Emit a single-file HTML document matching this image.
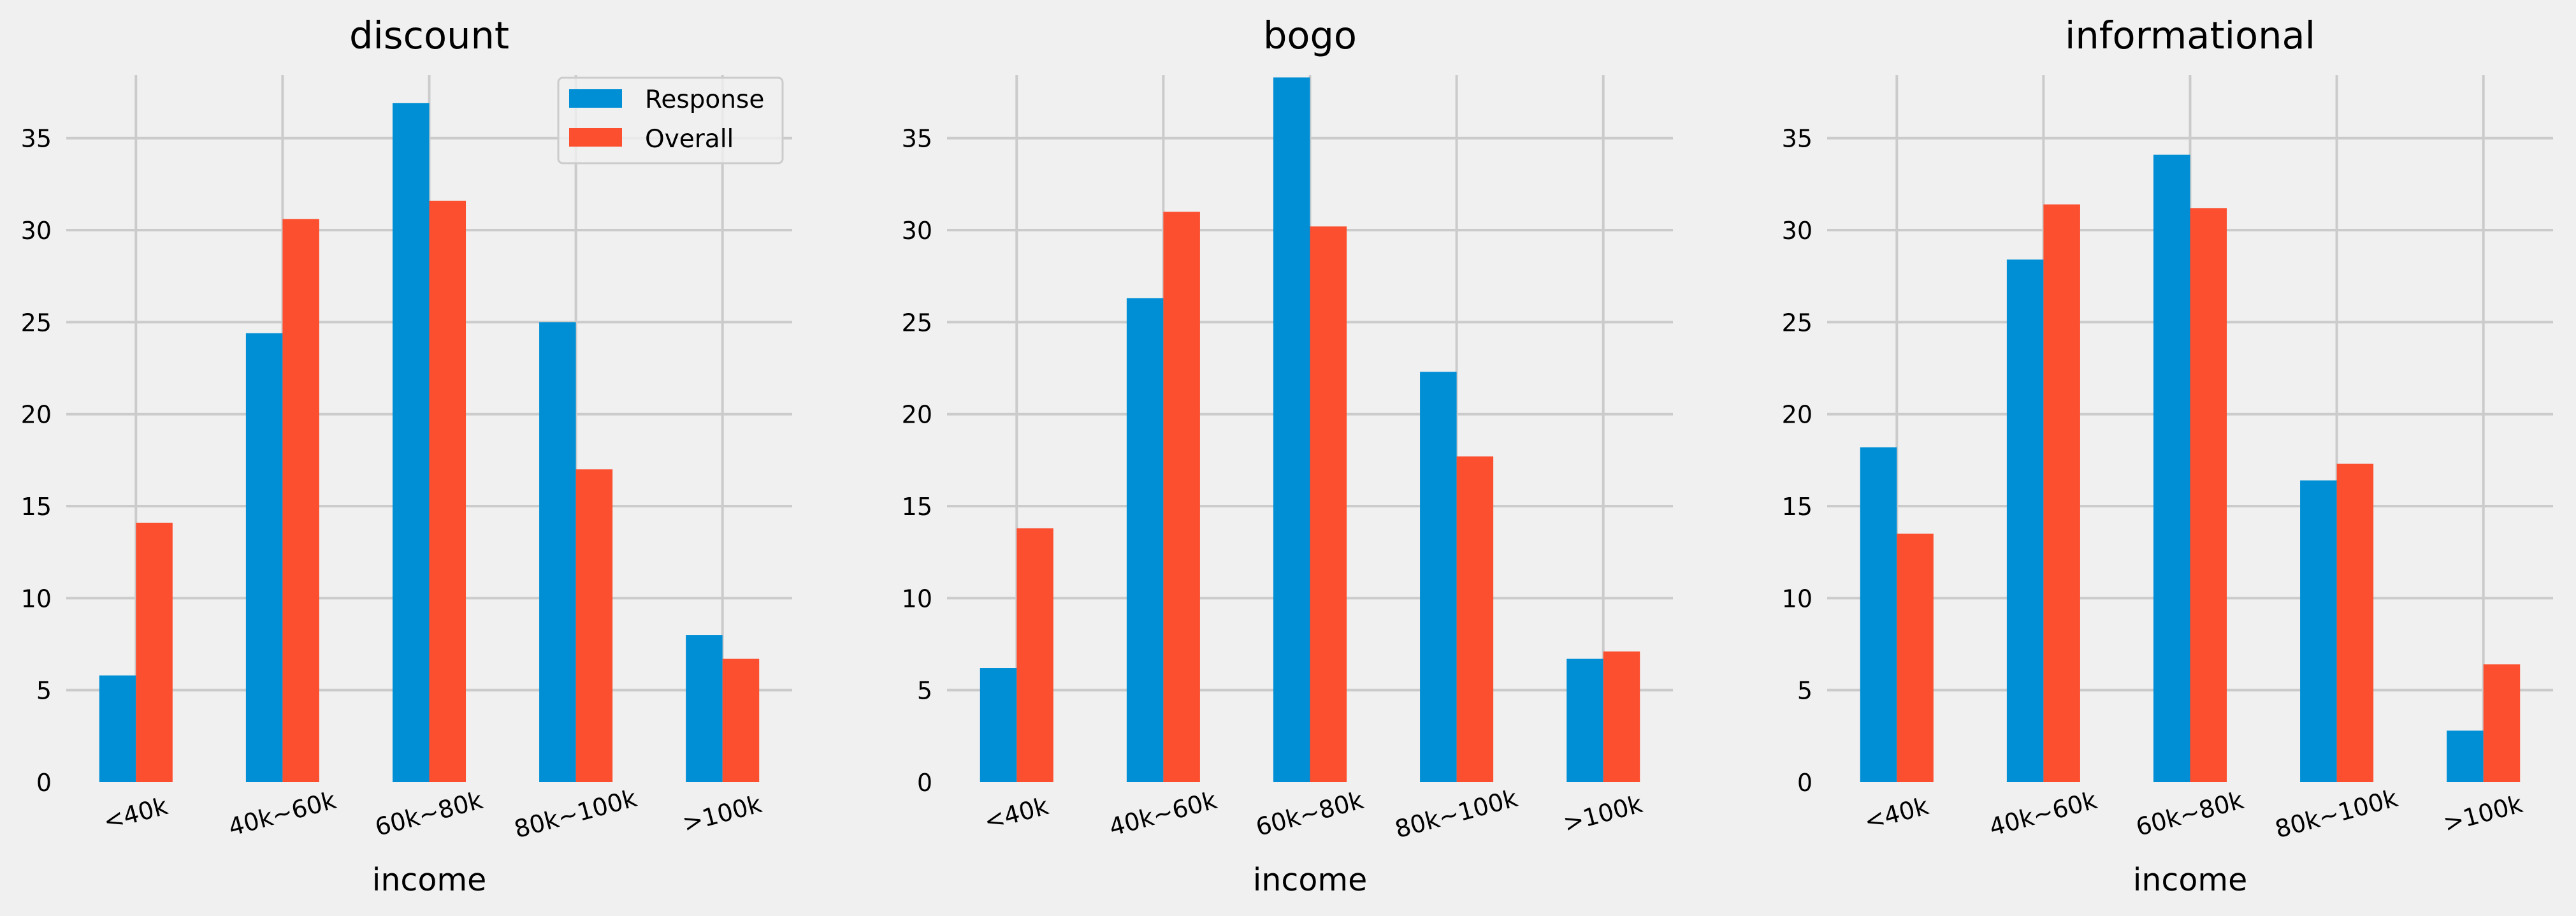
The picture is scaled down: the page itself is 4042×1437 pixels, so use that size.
<!DOCTYPE html>
<html><head><meta charset="utf-8">
<style>
html,body{margin:0;padding:0;background:#f0f0f0;}
svg{display:block;font-family:"DejaVu Sans","Liberation Sans",sans-serif;}
</style></head>
<body>
<svg id="chart" width="4042" height="1437" viewBox="0 0 4042 1437" xmlns="http://www.w3.org/2000/svg">
<rect x="0" y="0" width="4042" height="1437" fill="#f0f0f0"/>
</svg>
<script>
const categories = ["<40k", "40k~60k", "60k~80k", "80k~100k", ">100k"];
const panelTitles = ["discount", "bogo", "informational"];
const discountResponse = [5.8, 24.4, 36.9, 25.0, 8.0];
const discountOverall = [14.1, 30.6, 31.6, 17.0, 6.7];
const bogoResponse = [6.2, 26.3, 38.3, 22.3, 6.7];
const bogoOverall = [13.8, 31.0, 30.2, 17.7, 7.1];
const informationalResponse = [18.2, 28.4, 34.1, 16.4, 2.8];
const informationalOverall = [13.5, 31.4, 31.2, 17.3, 6.4];
const yTicks = [0, 5, 10, 15, 20, 25, 30, 35];
const seriesNames = ["Response", "Overall"];

const responseSeries = [discountResponse, bogoResponse, informationalResponse];
const overallSeries = [discountOverall, bogoOverall, informationalOverall];

const NS = "http://www.w3.org/2000/svg";
const svg = document.getElementById("chart");
const panelLeft = [104, 1486, 2867];
const panelW = 1139;
const plotTop = 118, y0 = 1227;
const yMax = 38.42;
const xMin = -0.475, xMax = 4.475;
const BLUE = "#008fd5", RED = "#fc4f30", GRID = "#cbcbcb";

function mk(tag, attrs, parent) {
  const e = document.createElementNS(NS, tag);
  for (const k in attrs) e.setAttribute(k, attrs[k]);
  (parent || svg).appendChild(e);
  return e;
}

for (let p = 0; p < 3; p++) {
  const L = panelLeft[p];
  const xs = v => L + (v - xMin) / (xMax - xMin) * panelW;
  const ys = v => y0 - v / yMax * (y0 - plotTop);
  const g = mk("g", {});
  
  

  yTicks.forEach(t => {
    const y = ys(t);
    if (t > 0) {
      const ln = mk("line", {x1: L, x2: L + panelW, y1: y, y2: y, stroke: GRID, "stroke-width": 4}, g);
      
      
    }
    const tx = mk("text", {x: L - 23, y: y + 14, "text-anchor": "end", "font-size": 38, fill: "#000"}, g);
    tx.textContent = String(t);
    
    
  });
  categories.forEach((c, i) => {
    const x = xs(i);
    const ln = mk("line", {x1: x, x2: x, y1: plotTop, y2: y0, stroke: GRID, "stroke-width": 4}, g);
    
    
  });
  categories.forEach((c, i) => {
    const r = responseSeries[p][i], o = overallSeries[p][i];
    const b1 = mk("rect", {x: xs(i - 0.25), y: ys(r), width: xs(i) - xs(i - 0.25), height: y0 - ys(r), fill: BLUE}, g);
    
    
    const b2 = mk("rect", {x: xs(i), y: ys(o), width: xs(i + 0.25) - xs(i), height: y0 - ys(o), fill: RED}, g);
    
    
    const cx = xs(i), cy = 1279;
    const tl = mk("text", {x: cx, y: cy, "text-anchor": "middle", "dominant-baseline": "middle", "font-size": 38, fill: "#000", transform: "rotate(-15 " + cx + " " + cy + ")"}, g);
    tl.textContent = c;
    
    
  });
  const cxp = L + panelW / 2;
  const tt = mk("text", {x: cxp, y: 76, "text-anchor": "middle", "font-size": 59, fill: "#000"}, g);
  tt.textContent = panelTitles[p];
  
  
  const xl = mk("text", {x: cxp, y: 1397, "text-anchor": "middle", "font-size": 49, fill: "#000"}, g);
  xl.textContent = "income";
  
  
}

const lg = mk("g", {});


const box = mk("rect", {x: 876, y: 122, width: 352, height: 134, rx: 7, fill: "#f0f0f0", "fill-opacity": 0.8, stroke: "#cccccc", "stroke-width": 3}, lg);


[BLUE, RED].forEach((col, k) => {
  const sw = mk("rect", {x: 893, y: 140 + k * 61, width: 83, height: 29, fill: col}, lg);
  
  
  const t = mk("text", {x: 1012, y: 169 + k * 62, "font-size": 39, fill: "#000"}, lg);
  t.textContent = seriesNames[k];
  
  
});
</script>
</body></html>
